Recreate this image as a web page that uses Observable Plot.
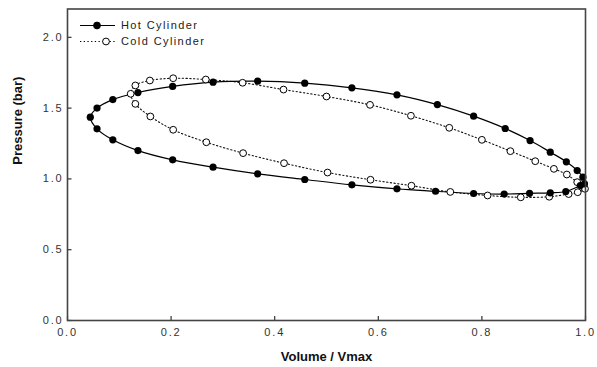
<!DOCTYPE html>
<html>
<head>
<meta charset="utf-8">
<script src="https://cdn.jsdelivr.net/npm/d3@7"></script>
<script src="https://cdn.jsdelivr.net/npm/@observablehq/plot@0.6"></script>
<style>
  body { margin: 0; background: #fff; }
  #wrap { position: relative; width: 597px; height: 367px; }
  #wrap svg text { font-family: "Liberation Sans", Arial, sans-serif; }
  g[aria-label="x-axis tick label"] text, g[aria-label="y-axis tick label"] text { letter-spacing: 1.8px; }
  g[aria-label="xtitle"] text { letter-spacing: 2.3px; }
  g[aria-label="ytitle"] text { letter-spacing: 0.9px; }
  #legend text { letter-spacing: 1.4px; }
</style>
</head>
<body>
<div id="wrap"></div>
<script>
// Tick values
const xTicks = [0, 0.2, 0.4, 0.6, 0.8, 1.0];
const yTicks = [0, 0.5, 1.0, 1.5, 2.0];

// Series names
const seriesNames = ["Hot Cylinder", "Cold Cylinder"];

// Hot cylinder loop (filled circles), in path order
const hotX = [0.044, 0.057, 0.0875, 0.136, 0.203, 0.281, 0.367, 0.458, 0.549, 0.636, 0.714, 0.784, 0.845, 0.893, 0.932, 0.963, 0.984, 0.995, 0.998,
              0.990, 0.962, 0.932, 0.892, 0.843, 0.784, 0.7105, 0.636, 0.549, 0.458, 0.367, 0.281, 0.203, 0.136, 0.0875, 0.057];
const hotY = [1.436, 1.500, 1.560, 1.610, 1.653, 1.683, 1.690, 1.676, 1.643, 1.594, 1.525, 1.443, 1.356, 1.271, 1.189, 1.121, 1.059, 1.012, 0.965,
              0.953, 0.911, 0.902, 0.898, 0.893, 0.897, 0.913, 0.930, 0.958, 0.996, 1.036, 1.083, 1.135, 1.200, 1.276, 1.354];

// Cold cylinder loop (open circles), in path order
const coldX = [0.122, 0.131, 0.159, 0.204, 0.267, 0.338, 0.417, 0.500, 0.584, 0.663, 0.737, 0.800, 0.855, 0.903, 0.939, 0.964, 0.984, 0.9965, 0.999,
               0.985, 0.9675, 0.930, 0.875, 0.811, 0.739, 0.664, 0.585, 0.502, 0.418, 0.339, 0.268, 0.204, 0.160, 0.131];
const coldY = [1.601, 1.660, 1.695, 1.711, 1.702, 1.679, 1.631, 1.582, 1.523, 1.446, 1.361, 1.276, 1.196, 1.125, 1.071, 1.031, 0.977, 0.946, 0.930,
               0.906, 0.893, 0.874, 0.870, 0.883, 0.908, 0.952, 0.994, 1.045, 1.111, 1.182, 1.259, 1.347, 1.441, 1.530];

const hot = hotX.map((x, i) => ({x, y: hotY[i]}));
const cold = coldX.map((x, i) => ({x, y: coldY[i]}));

const W = 597, H = 367, mL = 67, mR = 12, mT = 8.5, mB = 47;
const plotW = W - mL - mR, plotH = H - mT - mB;
const fmt = d => d.toFixed(1);

const chart = Plot.plot({
  width: W, height: H,
  marginLeft: mL, marginRight: mR, marginTop: mT, marginBottom: mB,
  style: {fontFamily: "Liberation Sans, Arial, sans-serif", fontSize: "11px", background: "white", color: "#333", overflow: "visible"},
  x: {domain: [0, 1]},
  y: {domain: [0, 2.2]},
  marks: [
    Plot.axisX(xTicks, {tickSize: 0, tickPadding: 8, tickFormat: fmt, label: null, fill: "#333"}),
    Plot.axisY(yTicks, {tickSize: 0, tickPadding: 4, tickFormat: fmt, label: null, fill: "#333"}),
    Plot.tickX(xTicks, {x: d => d, insetTop: plotH - 4, stroke: "#333", strokeWidth: 1.2}),
    Plot.tickY(yTicks, {y: d => d, insetRight: plotW - 4.5, stroke: "#333", strokeWidth: 1.2}),
    Plot.line(cold, {x: "x", y: "y", curve: "catmull-rom-closed", stroke: "#111", strokeWidth: 1.1, strokeDasharray: "1.3,2.4"}),
    Plot.line(hot, {x: "x", y: "y", curve: "catmull-rom-closed", stroke: "#000", strokeWidth: 1.2}),
    Plot.dot(cold, {x: "x", y: "y", r: 3.4, fill: "white", stroke: "#000", strokeWidth: 1}),
    Plot.dot(hot, {x: "x", y: "y", r: 3.6, fill: "#000", stroke: "none"}),
    Plot.frame({stroke: "#444", strokeWidth: 1.6}),
    Plot.text(["Volume / Vmax"], {frameAnchor: "bottom", dy: 40, fontWeight: "bold", fontSize: 13, fill: "#111", ariaLabel: "xtitle"}),
    Plot.text(["Pressure (bar)"], {frameAnchor: "left", dx: -49.5, rotate: -90, fontWeight: "bold", fontSize: 13, fill: "#111", ariaLabel: "ytitle"})
  ]
});
document.getElementById("wrap").appendChild(chart);

// Legend overlay (top-left inside the frame)
const leg = d3.select("#wrap").append("svg")
  .attr("id", "legend")
  .attr("width", 200).attr("height", 50)
  .style("position", "absolute").style("left", "75px").style("top", "14px");
const rows = [
  {name: seriesNames[0], y: 11.5, dash: null, fill: "#000", cx: 22},
  {name: seriesNames[1], y: 27.5, dash: "1.3,2.4", fill: "white", cx: 31}
];
rows.forEach(r => {
  leg.append("line").attr("x1", 5).attr("x2", 40).attr("y1", r.y).attr("y2", r.y)
    .attr("stroke", "#000").attr("stroke-width", 1.2).attr("stroke-dasharray", r.dash);
  leg.append("circle").attr("cx", r.cx).attr("cy", r.y).attr("r", 3.4)
    .attr("fill", r.fill).attr("stroke", "#000").attr("stroke-width", 1);
  leg.append("text").attr("x", 46).attr("y", r.y).attr("dy", "0.35em")
    .attr("font-size", 11).attr("fill", "#222").text(r.name);
});
</script>
</body>
</html>
